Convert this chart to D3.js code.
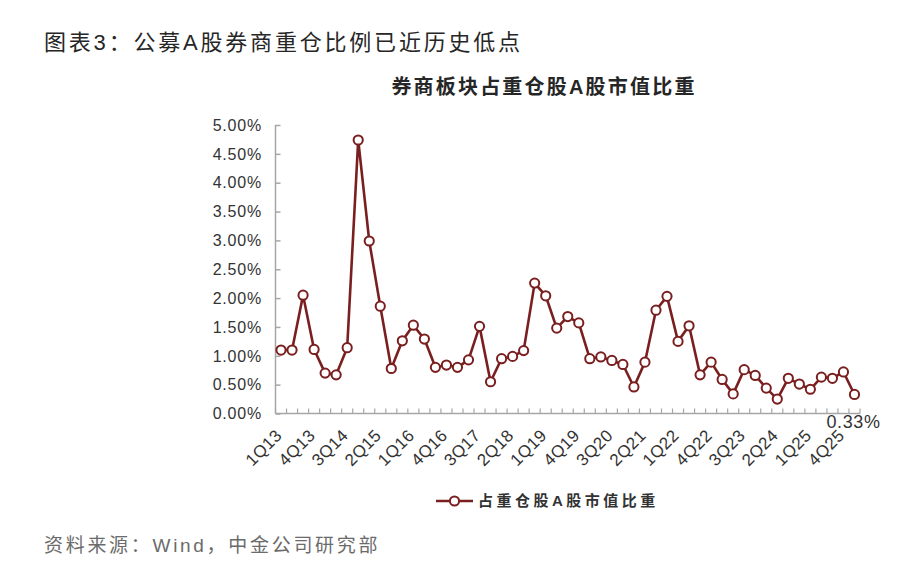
<!DOCTYPE html>
<html>
<head>
<meta charset="utf-8">
<script src="https://cdn.jsdelivr.net/npm/d3@7"></script>
<style>
body { margin: 0; background: #fff; }
svg text { font-family: "Liberation Sans", Arial, "Noto Sans CJK SC", sans-serif; }
</style>
</head>
<body>
<svg id="chart" width="914" height="584"></svg>
<script>
var quarters = ['1Q13','2Q13','3Q13','4Q13','1Q14','2Q14','3Q14','4Q14','1Q15','2Q15','3Q15','4Q15',
	'1Q16','2Q16','3Q16','4Q16','1Q17','2Q17','3Q17','4Q17','1Q18','2Q18','3Q18','4Q18',
	'1Q19','2Q19','3Q19','4Q19','1Q20','2Q20','3Q20','4Q20','1Q21','2Q21','3Q21','4Q21',
	'1Q22','2Q22','3Q22','4Q22','1Q23','2Q23','3Q23','4Q23','1Q24','2Q24','3Q24','4Q24',
	'1Q25','2Q25','3Q25','4Q25','1Q26'];
// 占重仓股A股市值比重 (%)
var weights = [1.10,1.10,2.05,1.11,0.70,0.67,1.14,4.74,2.99,1.86,0.78,1.26,
	1.53,1.29,0.80,0.84,0.80,0.93,1.51,0.55,0.95,0.99,1.09,2.26,
	2.04,1.48,1.68,1.57,0.95,0.98,0.92,0.85,0.46,0.89,1.79,2.03,
	1.25,1.52,0.67,0.89,0.59,0.34,0.76,0.66,0.44,0.25,0.61,0.51,
	0.42,0.63,0.61,0.72,0.33];
var yTicks = [0,0.5,1,1.5,2,2.5,3,3.5,4,4.5,5];
var tickLabels = quarters.filter(function(q, i){ return i % 3 == 0; });
var lastLabel = '0.33%';

var lineColor = '#7a1f1f';
var axisColor = '#a6a6a6';
var svg = d3.select('#chart');

var x = d3.scaleBand().domain(quarters).range([275.5, 860]);
var y = d3.scaleLinear().domain([0, 5]).range([413.5, 125]);

// titles
svg.append('text').attr('x', 44).attr('y', 50)
	.style('font-size', '22px').style('letter-spacing', '2.8px').style('fill', '#262626')
	.text('图表3：公募A股券商重仓比例已近历史低点');
svg.append('text').attr('x', 544).attr('y', 94).attr('text-anchor', 'middle')
	.style('font-size', '20px').style('font-weight', 'bold').style('letter-spacing', '2.2px').style('fill', '#262626')
	.text('券商板块占重仓股A股市值比重');

// y axis
var yAxis = svg.append('g').attr('transform', 'translate(275.5,0)')
	.call(d3.axisRight(y).tickValues(yTicks).tickSize(5).tickFormat(''));
yAxis.select('.domain').attr('stroke', axisColor).attr('stroke-width', 1.5).attr('d', 'M0,' + y(5) + 'V' + y(0));
yAxis.selectAll('.tick line').attr('stroke', axisColor).attr('stroke-width', 1.5);
svg.selectAll('.ylab').data(yTicks).enter().append('text')
	.attr('class', 'ylab')
	.attr('x', 262).attr('y', function(d){ return y(d); }).attr('dy', '0.36em')
	.attr('text-anchor', 'end')
	.style('font-size', '16px').style('letter-spacing', '0.8px').style('fill', '#333')
	.text(function(d){ return d.toFixed(2) + '%'; });

// x axis: ticks on category boundaries, pointing up
var bounds = quarters.map(function(q){ return x(q); }).concat([x.range()[1]]);
var xAxis = svg.append('g');
xAxis.append('line').attr('x1', x.range()[0]).attr('x2', x.range()[1])
	.attr('y1', y(0)).attr('y2', y(0)).attr('stroke', axisColor).attr('stroke-width', 1.5);
xAxis.selectAll('line.xt').data(bounds).enter().append('line')
	.attr('class', 'xt')
	.attr('x1', function(d){ return d; }).attr('x2', function(d){ return d; })
	.attr('y1', y(0)).attr('y2', y(0) - 5)
	.attr('stroke', axisColor).attr('stroke-width', 1.2);
svg.selectAll('.xlab').data(tickLabels).enter().append('text')
	.attr('class', 'xlab')
	.attr('transform', function(d){ return 'translate(' + (x(d) + x.bandwidth() / 2 + 2) + ',' + (y(0) + 23) + ') rotate(-45)'; })
	.attr('text-anchor', 'end')
	.style('font-size', '17px').style('letter-spacing', '0.4px').style('fill', '#333')
	.text(function(d){ return d; });

// series
var pts = quarters.map(function(q, i){ return { q: q, v: weights[i] }; });
var line = d3.line()
	.x(function(d){ return x(d.q) + x.bandwidth() / 2; })
	.y(function(d){ return y(d.v); });
svg.append('path').datum(pts)
	.attr('d', line).attr('fill', 'none')
	.attr('stroke', lineColor).attr('stroke-width', 2.6).attr('stroke-linejoin', 'round');
svg.selectAll('.dot').data(pts).enter().append('circle')
	.attr('class', 'dot')
	.attr('cx', function(d){ return x(d.q) + x.bandwidth() / 2; })
	.attr('cy', function(d){ return y(d.v); })
	.attr('r', 4.6).attr('fill', '#fff')
	.attr('stroke', lineColor).attr('stroke-width', 2);

// last value label
var last = pts[pts.length - 1];
svg.append('text')
	.attr('x', x(last.q) + x.bandwidth() / 2 - 1).attr('y', y(0) + 14)
	.attr('text-anchor', 'middle')
	.style('font-size', '18px').style('letter-spacing', '0.6px').style('fill', '#333')
	.text(lastLabel);

// legend
var lg = svg.append('g').attr('transform', 'translate(436,501)');
lg.append('line').attr('x1', 0).attr('x2', 37).attr('y1', 0).attr('y2', 0)
	.attr('stroke', lineColor).attr('stroke-width', 2.6);
lg.append('circle').attr('cx', 18.5).attr('cy', 0).attr('r', 4.6)
	.attr('fill', '#fff').attr('stroke', lineColor).attr('stroke-width', 2);
lg.append('text').attr('x', 42).attr('y', 0).attr('dy', '0.36em')
	.style('font-size', '15px').style('font-weight', 'bold').style('letter-spacing', '3.5px').style('fill', '#333')
	.text('占重仓股A股市值比重');

// source
svg.append('text').attr('x', 44).attr('y', 552)
	.style('font-size', '19px').style('letter-spacing', '2.7px').style('fill', '#6b6b6b')
	.text('资料来源：Wind，中金公司研究部');
</script>
</body>
</html>
